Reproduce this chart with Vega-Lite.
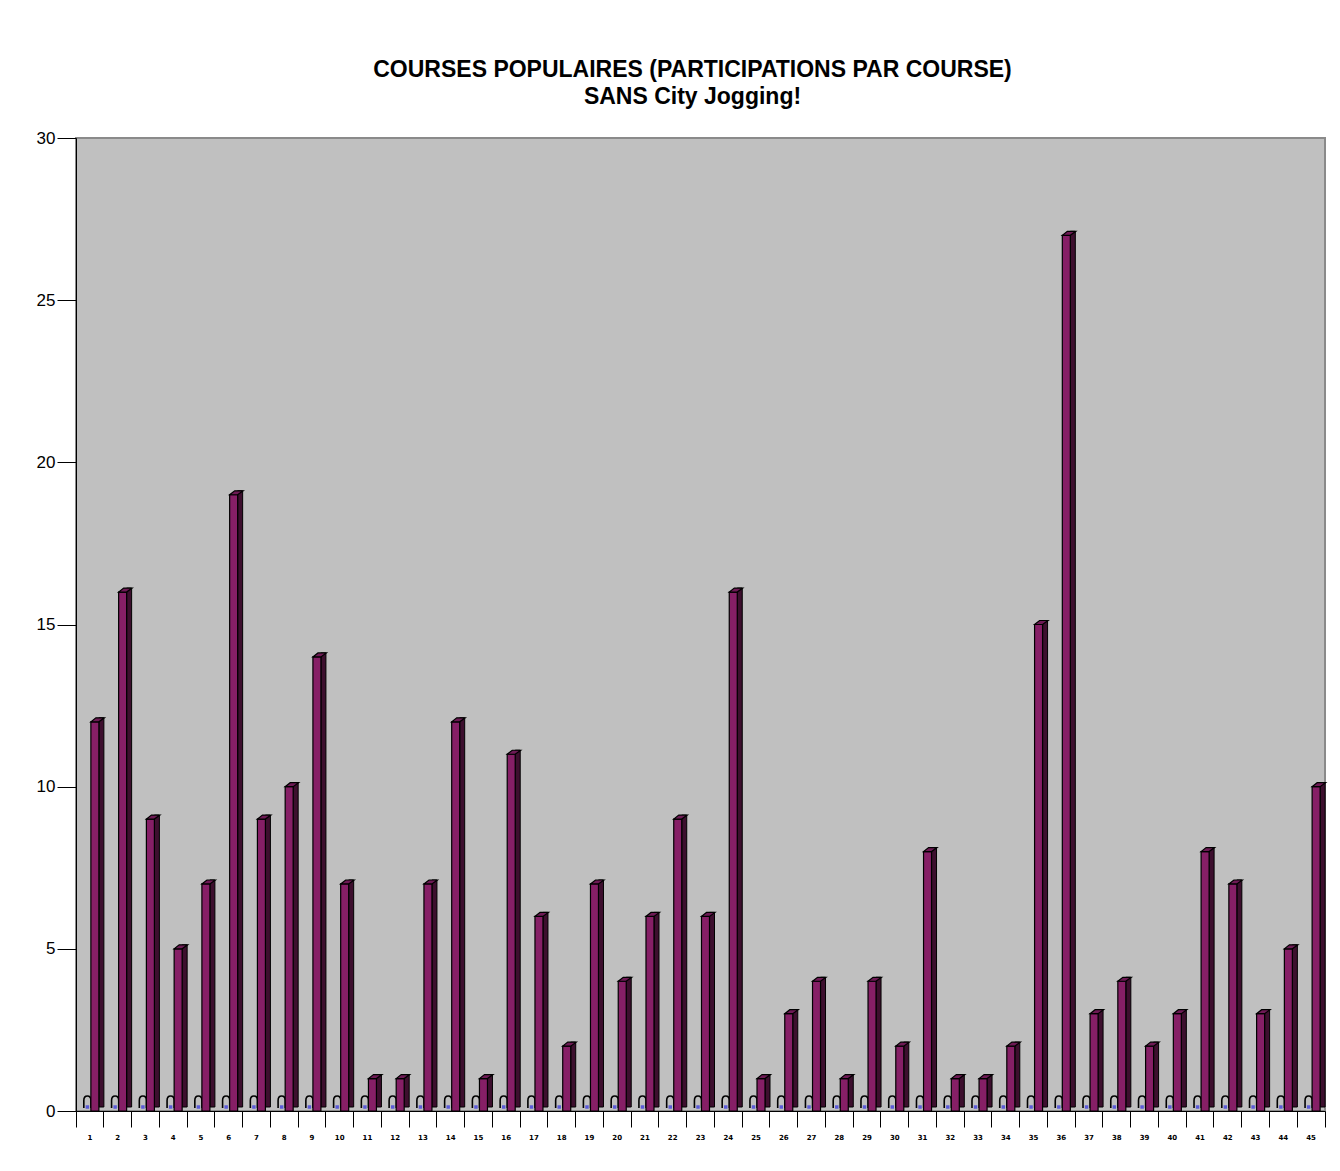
{
  "$schema": "https://vega.github.io/schema/vega-lite/v6.json",
  "autosize": "none",
  "width": 1249,
  "height": 973,
  "padding": {"left": 76, "top": 138, "right": 15, "bottom": 60},
  "background": "white",
  "title": {
    "text": ["COURSES POPULAIRES (PARTICIPATIONS PAR COURSE)", "SANS City Jogging!"],
    "font": "Liberation Sans",
    "fontSize": 23,
    "fontWeight": "bold",
    "color": "black",
    "lineHeight": 27,
    "anchor": "middle",
    "dx": -8,
    "offset": 20
  },
  "config": {
    "view": {"fill": "#C0C0C0", "stroke": "#8a8a8a", "strokeWidth": 2},
    "axis": {"grid": false}
  },
  "data": {
    "values": [
      {"course": 1, "n": 12}, {"course": 2, "n": 16}, {"course": 3, "n": 9}, {"course": 4, "n": 5},
      {"course": 5, "n": 7}, {"course": 6, "n": 19}, {"course": 7, "n": 9}, {"course": 8, "n": 10},
      {"course": 9, "n": 14}, {"course": 10, "n": 7}, {"course": 11, "n": 1}, {"course": 12, "n": 1},
      {"course": 13, "n": 7}, {"course": 14, "n": 12}, {"course": 15, "n": 1}, {"course": 16, "n": 11},
      {"course": 17, "n": 6}, {"course": 18, "n": 2}, {"course": 19, "n": 7}, {"course": 20, "n": 4},
      {"course": 21, "n": 6}, {"course": 22, "n": 9}, {"course": 23, "n": 6}, {"course": 24, "n": 16},
      {"course": 25, "n": 1}, {"course": 26, "n": 3}, {"course": 27, "n": 4}, {"course": 28, "n": 1},
      {"course": 29, "n": 4}, {"course": 30, "n": 2}, {"course": 31, "n": 8}, {"course": 32, "n": 1},
      {"course": 33, "n": 1}, {"course": 34, "n": 2}, {"course": 35, "n": 15}, {"course": 36, "n": 27},
      {"course": 37, "n": 3}, {"course": 38, "n": 4}, {"course": 39, "n": 2}, {"course": 40, "n": 3},
      {"course": 41, "n": 8}, {"course": 42, "n": 7}, {"course": 43, "n": 3}, {"course": 44, "n": 5},
      {"course": 45, "n": 10}
    ]
  },
  "encoding": {
    "x": {
      "field": "course",
      "type": "ordinal",
      "scale": {"paddingInner": 0, "paddingOuter": 0},
      "axis": {
        "title": null,
        "labelAngle": 0,
        "bandPosition": 1,
        "tickExtra": true,
        "tickSize": 16,
        "tickColor": "black",
        "domainColor": "black",
        "labelPadding": 6,
        "labelFont": "DejaVu Sans",
        "labelFontSize": 7,
        "labelFontWeight": "bold",
        "labelColor": "black"
      }
    }
  },
  "layer": [
    {
      "mark": {"type": "point", "shape": "M-0.42,0.6 L-0.42,-0.3 C-0.42,-1 0.42,-1 0.42,-0.3 L0.42,0.6", "size": 289, "filled": false, "stroke": "black", "strokeWidth": 1.6, "opacity": 1, "xOffset": -2.5, "yOffset": -8},
      "encoding": {
        "y": {"datum": 0, "type": "quantitative"}
      }
    },
    {
      "mark": {"type": "point", "shape": "square", "size": 12, "filled": true, "color": "#5a5ad8", "opacity": 1, "xOffset": -2.5, "yOffset": -4},
      "encoding": {
        "y": {"datum": 0, "type": "quantitative"}
      }
    },
    {
      "mark": {"type": "bar", "width": 5, "xOffset": 11.5, "yOffset": -4, "color": "#3d0f2e", "stroke": "black", "strokeWidth": 1},
      "encoding": {
        "y": {
          "field": "n",
          "type": "quantitative",
          "scale": {"domain": [0, 30], "nice": false},
          "axis": {
            "title": null,
            "values": [0, 5, 10, 15, 20, 25, 30],
            "tickSize": 19,
            "tickColor": "black",
            "domainColor": "black",
            "labelPadding": 2,
            "labelFont": "Liberation Sans",
            "labelFontSize": 17,
            "labelColor": "black"
          }
        }
      }
    },
    {
      "mark": {"type": "bar", "width": 8, "xOffset": 5, "color": "#861f66", "stroke": "black", "strokeWidth": 1.2},
      "encoding": {
        "y": {"field": "n", "type": "quantitative"}
      }
    },
    {
      "mark": {"type": "point", "shape": "M-0.93,0 L0.21,0 L1,-0.57 L-0.21,-0.57 Z", "size": 196, "filled": true, "fill": "#6e1a55", "stroke": "black", "strokeWidth": 1.2, "opacity": 1, "xOffset": 7.5},
      "encoding": {
        "y": {"field": "n", "type": "quantitative"}
      }
    }
  ]
}
